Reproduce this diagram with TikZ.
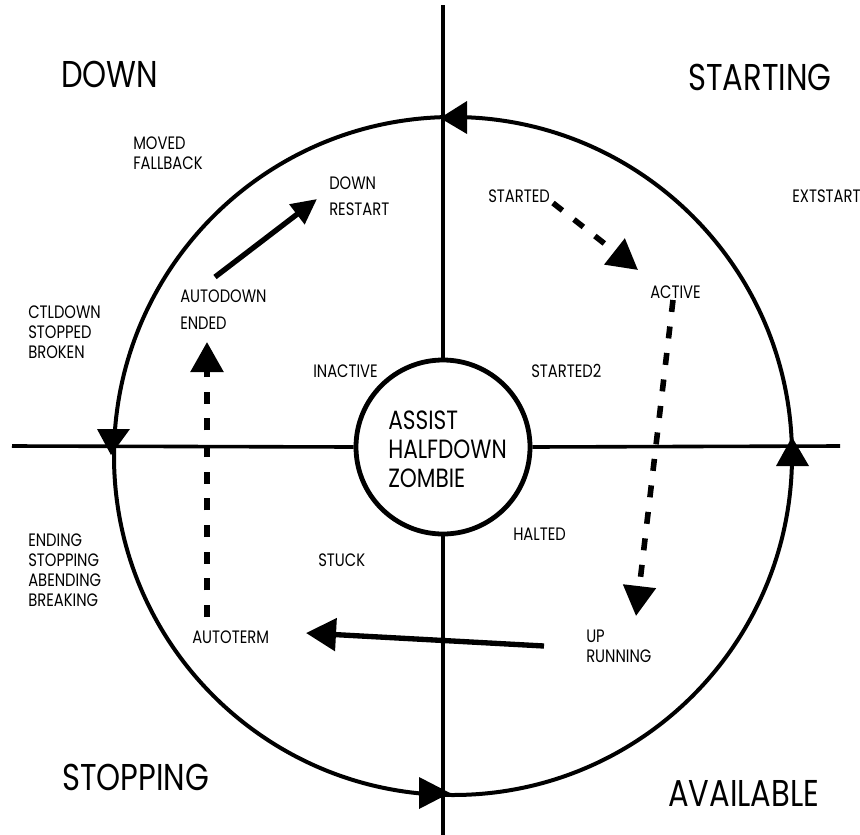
\documentclass[tikz,border=0pt]{standalone}
\usepackage{fontspec}
\setmainfont{Poppins}[FakeStretch=0.82]
\usetikzlibrary{arrows.meta}
\begin{document}
\begin{tikzpicture}[x=0.75pt,y=-0.75pt,
  axis/.style={line width=2.7pt},
  ring/.style={line width=3pt},
  lbl/.style={inner sep=0pt,anchor=base west,align=left,font=\fontsize{13.5}{15}\selectfont},
  biglbl/.style={inner sep=0pt,anchor=base west,font=\fontsize{28}{32}\selectfont},
  solidarrow/.style={line width=4pt,-{Triangle[length=22.5pt,width=24pt]}},
  smallsolidarrow/.style={line width=4pt,-{Triangle[length=19pt,width=18pt]}},
  dasharrow/.style={line width=4.2pt,dash pattern=on 9pt off 11pt,-{Triangle[length=22.5pt,width=24pt]}},
  ringtip/.style={fill=black}]
\useasboundingbox (0,0) rectangle (860,835);
% central circle
\node[circle,draw,line width=3.6pt,minimum size=174*0.75pt,inner sep=0pt] (core) at (443,447) {};
\node[inner sep=0pt,anchor=base west,align=left,font=\fontsize{19.8}{21.4}\selectfont] (coretext) at (388,487) {ASSIST\\HALFDOWN\\ZOMBIE};
% axes
\coordinate (ytop) at (443,5);
\coordinate (ybot) at (443,835);
\coordinate (xleft) at (12,446);
\coordinate (xright) at (840,446);
\draw[axis] (ytop) -- (core.north);
\draw[axis] (core.south) -- (ybot);
\draw[axis] (xleft) -- (core.west);
\draw[axis] (core.east) -- (xright);
% big ring
\coordinate (ringc) at (453,456);
\draw[ring] (ringc) circle[radius=339];
\fill[ringtip] (440,118) -- (467,101) -- (467,134) -- cycle;
\fill[ringtip] (450,793) -- (419,777) -- (419,809) -- cycle;
\fill[ringtip] (111,455) -- (97,429) -- (130,429) -- cycle;
\fill[ringtip] (792,437) -- (776,466) -- (809,466) -- cycle;
% quadrant titles
\node[biglbl] (tdown) at (61,87) {DOWN};
\node[biglbl] (tstarting) at (688,90) {STARTING};
\node[biglbl] (tstopping) at (62,790) {STOPPING};
\node[biglbl] (tavailable) at (668,806) {AVAILABLE};
% state labels (anchor = baseline of last line)
\node[lbl] (moved) at (133,169) {MOVED\\FALLBACK};
\node[lbl] (extstart) at (792,202) {EXTSTART};
\node[lbl,font=\fontsize{13.5}{19.5}\selectfont] (restart) at (329,215) {DOWN\\RESTART};
\node[lbl,font=\fontsize{13.5}{20.2}\selectfont] (autodown) at (180,329) {AUTODOWN\\ENDED};
\node[lbl] (started) at (488,202) {STARTED};
\node[lbl] (active) at (650,298) {ACTIVE};
\node[lbl] (ctldown) at (28,358) {CTLDOWN\\STOPPED\\BROKEN};
\node[lbl] (ending) at (28,606) {ENDING\\STOPPING\\ABENDING\\BREAKING};
\node[lbl] (inactive) at (313,377) {INACTIVE};
\node[lbl] (started2) at (531,377) {STARTED2};
\node[lbl] (halted) at (513,540) {HALTED};
\node[lbl] (stuck) at (318,566) {STUCK};
\node[lbl] (autoterm) at (192,643) {AUTOTERM};
\node[lbl] (up) at (586,662) {UP\\RUNNING};
% connector ends
\coordinate (c1s) at (215,277);
\coordinate (c1e) at (317,199);
\coordinate (c2s) at (553,203);
\coordinate (c2e) at (638,270);
\coordinate (c3s) at (673,300);
\coordinate (c3e) at (636,616);
\coordinate (c4s) at (544,646);
\coordinate (c4e) at (306,633);
\coordinate (c5s) at (207,617);
\coordinate (c5e) at (207,342);
\draw[smallsolidarrow] (c1s) -- (c1e);
\draw[dasharrow] (c2s) -- (c2e);
\draw[dasharrow] (c3s) -- (c3e);
\draw[solidarrow] (c4s) -- (c4e);
\draw[dasharrow] (c5s) -- (c5e);
\end{tikzpicture}
\end{document}
